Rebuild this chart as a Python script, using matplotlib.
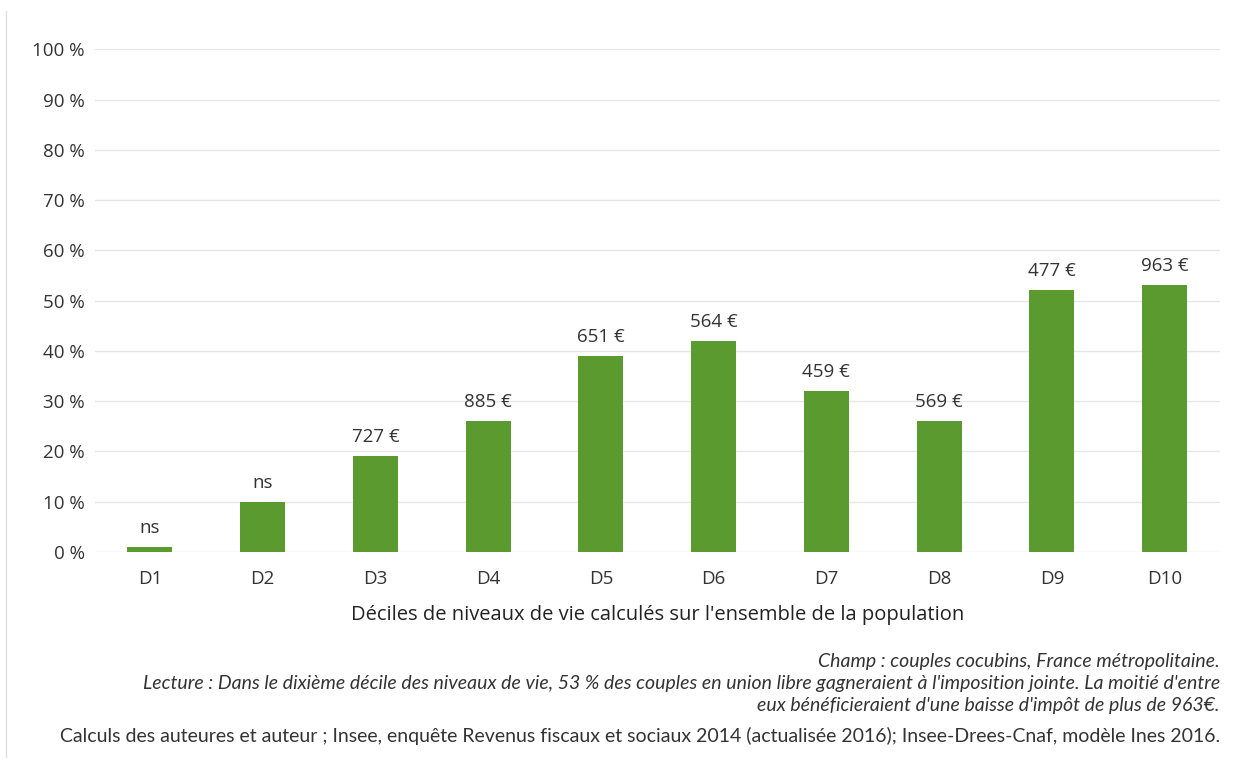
import numpy as np
import matplotlib.pyplot as plt
from matplotlib.lines import Line2D

plt.rcParams['font.family'] = ['Open Sans', 'DejaVu Sans']

deciles = ["D1", "D2", "D3", "D4", "D5", "D6", "D7", "D8", "D9", "D10"]
share = [1, 10, 19, 26, 39, 42, 32, 26, 52, 53]
gain_labels = ["ns", "ns", "727 €", "885 €", "651 €", "564 €", "459 €", "569 €", "477 €", "963 €"]
yticks = [0, 10, 20, 30, 40, 50, 60, 70, 80, 90, 100]

green = "#5b9a2f"
txt = "#333333"

fig = plt.figure(figsize=(12.46, 7.58), dpi=100)
ax = fig.add_axes([0.076, 0.272, 0.903, 0.663])

x = np.arange(len(deciles))
bars = ax.bar(x, share, width=0.4, color=green, zorder=3)
for xi, v, lab in zip(x, share, gain_labels):
    ax.text(xi, v + 2.0, lab, ha="center", va="bottom", fontsize=13.5, color=txt)

ax.set_xlim(-0.49, 9.49)
ax.set_ylim(0, 100)
ax.set_yticks(yticks)
ax.set_yticklabels([f"{t} %" for t in yticks], fontsize=13.5, color=txt)
ax.set_xticks(x)
ax.set_xticklabels(deciles, fontsize=13.5, color=txt)
ax.tick_params(length=0, pad=13)
ax.tick_params(axis="y", pad=7)
ax.yaxis.grid(True, color="#e6e6e6", linewidth=1, zorder=0)
for s in ax.spines.values():
    s.set_visible(False)
ax.set_xlabel("Déciles de niveaux de vie calculés sur l'ensemble de la population",
              fontsize=14.5, color="#222222", labelpad=12)

# notes
note_kw = dict(ha="right", fontsize=14, color=txt, family=["Lato", "DejaVu Sans"])
fig.text(0.979, 0.120, "Champ : couples cocubins, France métropolitaine.", style="italic", **note_kw)
fig.text(0.979, 0.091, "Lecture : Dans le dixième décile des niveaux de vie, 53 % des couples en union libre gagneraient à l'imposition jointe. La moitié d'entre",
         style="italic", **note_kw)
fig.text(0.979, 0.062, "eux bénéficieraient d'une baisse d'impôt de plus de 963€.", style="italic", **note_kw)
fig.text(0.979, 0.021, "Calculs des auteures et auteur ; Insee, enquête Revenus fiscaux et sociaux 2014 (actualisée 2016); Insee-Drees-Cnaf, modèle Ines 2016.",
         **note_kw)

fig.add_artist(Line2D([0.005, 0.005], [0.0, 0.985], transform=fig.transFigure, color="#e0e0e0", linewidth=1))

fig.savefig("out.png", dpi=100)
